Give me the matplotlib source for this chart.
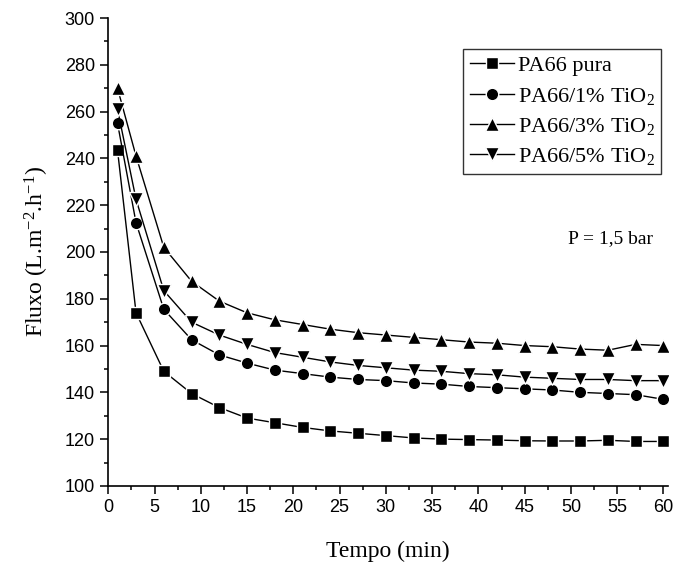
import numpy as np
import matplotlib
matplotlib.use("Agg")
import matplotlib.pyplot as plt
from matplotlib.ticker import MultipleLocator

plt.rcParams['mathtext.fontset'] = 'custom'
plt.rcParams['mathtext.rm'] = 'Liberation Serif'
plt.rcParams['mathtext.it'] = 'Liberation Serif:italic'

tempo = [1, 3, 6, 9, 12, 15, 18, 21, 24, 27, 30, 33, 36, 39, 42, 45, 48, 51, 54, 57, 60]
pa66_pura = [243.5, 174, 149, 139.5, 133.5, 129, 127, 125, 123.5, 122.5, 121.5,
             120.5, 120, 119.8, 119.6, 119.3, 119.2, 119.2, 119.5, 119, 119]
pa66_1 = [255, 212.5, 175.5, 162.5, 156, 152.5, 149.5, 148, 146.5, 145.5, 145,
          144, 143.5, 142.5, 142, 141.5, 141, 140, 139.5, 139, 137]
pa66_3 = [270, 241, 202, 187.5, 179, 174, 171, 169, 167, 165.5, 164.5,
          163.5, 162.5, 161.5, 161, 160, 159.5, 158.5, 158, 160.5, 160]
pa66_5 = [261, 222.5, 183.5, 170, 164.5, 160.5, 157, 155, 153, 151.5, 150.5,
          149.5, 149, 148, 147.5, 146.5, 146, 145.5, 145.5, 145, 145]

labels = ['PA66 pura', 'PA66/1% TiO$_2$', 'PA66/3% TiO$_2$', 'PA66/5% TiO$_2$']
series = [pa66_pura, pa66_1, pa66_3, pa66_5]
markers = ['s', 'o', '^', 'v']
sizes = [8.5, 9, 10, 10]

fig = plt.figure(figsize=(6.81, 5.65), dpi=100)
ax = fig.add_axes([0.159, 0.140, 0.822, 0.828])

for y, lab, m, ms in zip(series, labels, markers, sizes):
    ax.plot(tempo, y, color='black', lw=1.0, marker=m, markersize=ms,
            markerfacecolor='black', markeredgecolor='white', markeredgewidth=1.0,
            label=lab)

ax.set_xlim(0, 60.5)
ax.set_ylim(100, 300)
ax.xaxis.set_major_locator(MultipleLocator(5))
ax.xaxis.set_minor_locator(MultipleLocator(2.5))
ax.yaxis.set_major_locator(MultipleLocator(20))
ax.yaxis.set_minor_locator(MultipleLocator(10))
ax.spines['top'].set_visible(False)
ax.spines['right'].set_visible(False)
ax.spines['left'].set_linewidth(1.2)
ax.spines['bottom'].set_linewidth(1.2)
ax.tick_params(which='major', direction='out', length=6, width=1.1)
ax.tick_params(which='minor', direction='out', length=3, width=1.1)
for t in ax.get_xticklabels() + ax.get_yticklabels():
    t.set_fontfamily('Liberation Sans')
    t.set_fontsize(13)

ax.set_xlabel('Tempo (min)', fontfamily='Liberation Serif', fontsize=17, labelpad=18)
ax.set_ylabel('Fluxo (L.m$^{-2}$.h$^{-1}$)', fontfamily='Liberation Serif',
              fontsize=17, labelpad=10)

leg = ax.legend(loc='upper left', bbox_to_anchor=(0.634, 0.934),
                prop={'family': 'Liberation Serif', 'size': 16},
                frameon=True, fancybox=False, edgecolor='black',
                handlelength=2.0, handletextpad=0.15, borderpad=0.3,
                labelspacing=0.42, borderaxespad=0)
leg.get_frame().set_linewidth(1.0)

ax.text(0.973, 0.529, 'P = 1,5 bar', transform=ax.transAxes, ha='right',
        va='center', fontfamily='Liberation Serif', fontsize=14)

fig.savefig('out.png', dpi=100)
